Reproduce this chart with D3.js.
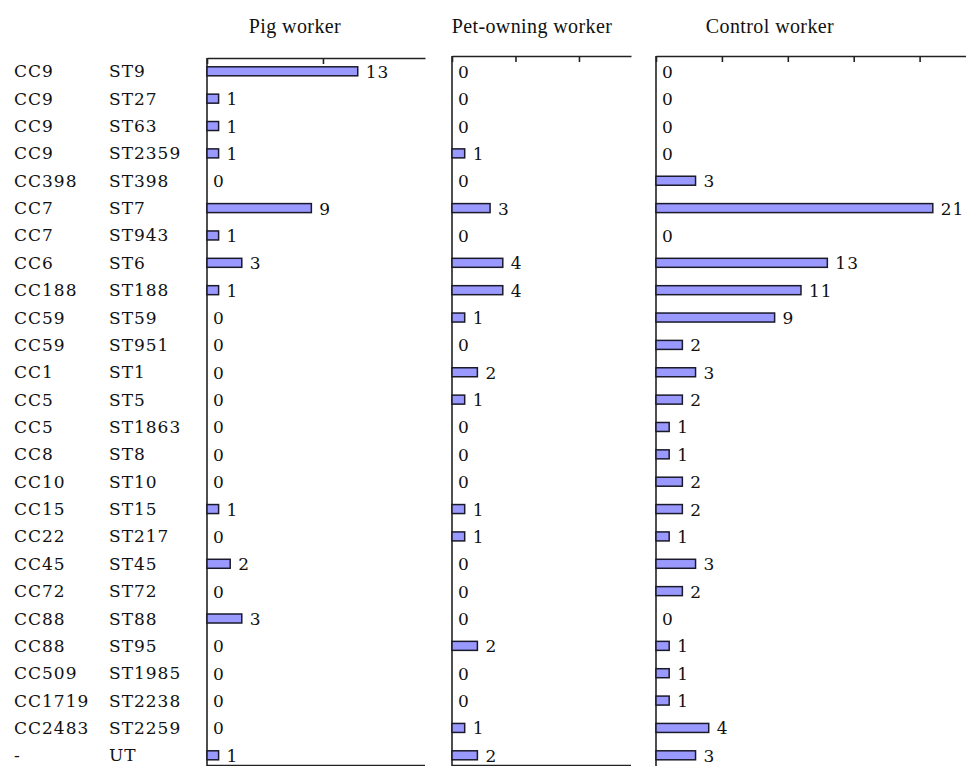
<!DOCTYPE html>
<html>
<head>
<meta charset="utf-8">
<script src="https://cdn.jsdelivr.net/npm/d3@7"></script>
<style>
  html, body { margin: 0; padding: 0; background: #fff; }
  svg { display: block; }
  svg text.title { font-family: "Liberation Serif", "Tinos", "Times New Roman", serif; }
  svg text.lbl { font-family: "DejaVu Serif", serif; }
</style>
</head>
<body>
<svg id="chart" width="966" height="766"></svg>
<script>
// Clonal complex / sequence type of each isolate row
const clonalComplexes = ["CC9","CC9","CC9","CC9","CC398","CC7","CC7","CC6","CC188","CC59","CC59","CC1","CC5","CC5","CC8","CC10","CC15","CC22","CC45","CC72","CC88","CC88","CC509","CC1719","CC2483","-"];
const sequenceTypes = ["ST9","ST27","ST63","ST2359","ST398","ST7","ST943","ST6","ST188","ST59","ST951","ST1","ST5","ST1863","ST8","ST10","ST15","ST217","ST45","ST72","ST88","ST95","ST1985","ST2238","ST2259","UT"];

// Isolate counts per group
const pigWorker       = [13,1,1,1,0,9,1,3,1,0,0,0,0,0,0,0,1,0,2,0,3,0,0,0,0,1];
const petOwningWorker = [0,0,0,1,0,3,0,4,4,1,0,2,1,0,0,0,1,1,0,0,0,2,0,0,1,2];
const controlWorker   = [0,0,0,0,3,21,0,13,11,9,2,3,2,1,1,2,2,1,3,2,0,1,1,1,4,3];

const groupTitles = ["Pig worker", "Pet-owning worker", "Control worker"];
const pigTicks = [0, 10];
const petTicks = [0, 5, 10];
const controlTicks = [0, 5, 10, 15, 20];

const svg = d3.select("#chart");

// Row positions
const y = d3.scalePoint()
  .domain(d3.range(sequenceTypes.length))
  .range([71.3, 755.3]);

// Row labels
const labels = svg.append("g")
  .style("font-size", "17px")
  .style("letter-spacing", "1px")
  .attr("fill", "#111");
labels.selectAll("text.cc")
  .data(clonalComplexes)
  .join("text")
  .attr("class", "cc lbl")
  .attr("x", 14)
  .attr("y", (d, i) => y(i) + 6)
  .text(d => d);
labels.selectAll("text.st")
  .data(sequenceTypes)
  .join("text")
  .attr("class", "st lbl")
  .attr("x", 109)
  .attr("y", (d, i) => y(i) + 6)
  .text(d => d);

// Panel layout: left edge, right edge, axis max and top line
const panels = [
  { title: groupTitles[0], values: pigWorker, ticks: pigTicks, x0: 207, x1: 425, max: 18.8, top: 58, bottomLine: true, titleX: 295 },
  { title: groupTitles[1], values: petOwningWorker, ticks: petTicks, x0: 452, x1: 631, max: 14.1, top: 56, bottomLine: true, titleX: 532 },
  { title: groupTitles[2], values: controlWorker, ticks: controlTicks, x0: 656, x1: 966, max: 23.52, top: 56, bottomLine: false, titleX: 770 }
];

panels.forEach(p => {
  const x = d3.scaleLinear().domain([0, p.max]).range([p.x0, p.x1]);
  const g = svg.append("g");

  // Title
  g.append("text")
    .attr("class", "title")
    .attr("x", p.titleX)
    .attr("y", 33)
    .attr("text-anchor", "middle")
    .style("font-size", "20px")
    .style("letter-spacing", "0.4px")
    .attr("fill", "#111")
    .text(p.title);

  // Top axis with inward ticks
  const axis = d3.axisBottom(x)
    .tickValues(p.ticks)
    .tickSize(6)
    .tickSizeOuter(0)
    .tickFormat("");
  const ax = g.append("g")
    .attr("transform", `translate(0,${p.top})`)
    .call(axis);
  ax.select(".domain").attr("stroke", "#222").attr("stroke-width", 1.6);
  ax.selectAll(".tick line").attr("stroke", "#222").attr("stroke-width", 1.6);

  // Left axis line
  g.append("line")
    .attr("x1", x(0)).attr("x2", x(0))
    .attr("y1", p.top).attr("y2", 766)
    .attr("stroke", "#222").attr("stroke-width", 1.6);

  if (p.bottomLine) {
    g.append("line")
      .attr("x1", x(0)).attr("x2", p.x1)
      .attr("y1", 765.5).attr("y2", 765.5)
      .attr("stroke", "#222").attr("stroke-width", 1.4);
  }

  // Bars
  g.selectAll("rect")
    .data(p.values.map((v, i) => ({ v, i })).filter(d => d.v > 0))
    .join("rect")
    .attr("x", x(0))
    .attr("y", d => y(d.i) - 4.5)
    .attr("width", d => x(d.v) - x(0))
    .attr("height", 9)
    .attr("fill", "#9999ff")
    .attr("stroke", "#1a1a2a")
    .attr("stroke-width", 1.5);

  // Value labels
  g.selectAll("text.val")
    .data(p.values)
    .join("text")
    .attr("class", "val lbl")
    .attr("x", d => d > 0 ? x(d) + 8 : x(0) + 6)
    .attr("y", (d, i) => y(i) + 6.5)
    .style("font-size", "17px")
    .style("letter-spacing", "1px")
    .attr("fill", "#111")
    .text(d => d);
});
</script>
</body>
</html>
